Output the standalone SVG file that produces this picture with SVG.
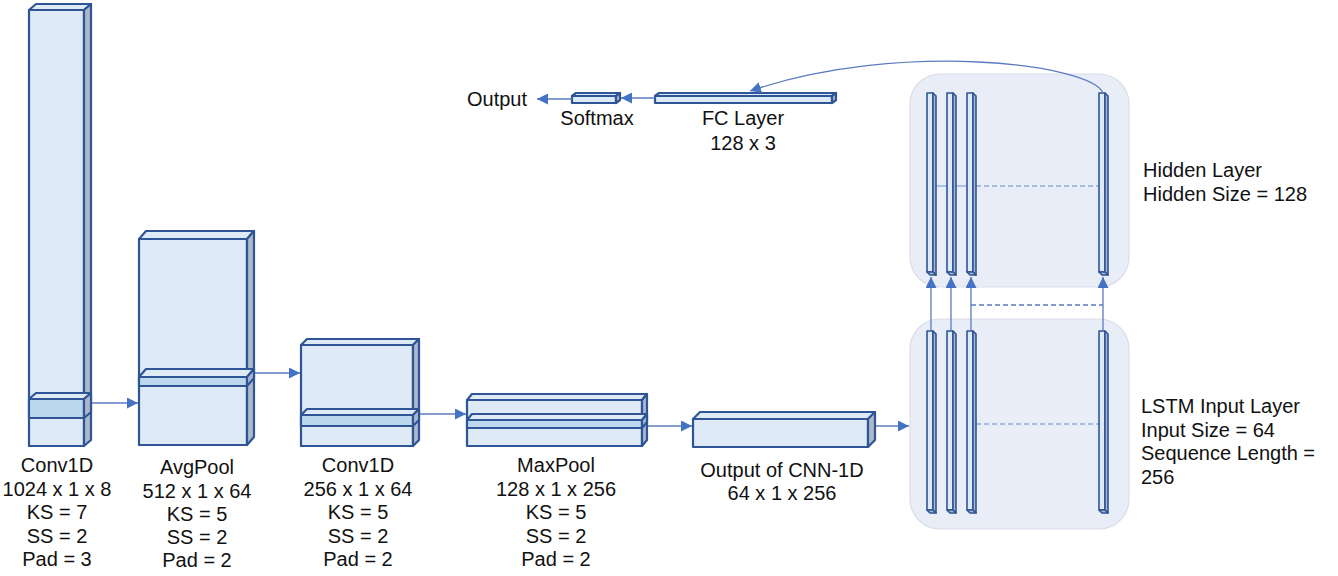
<svg xmlns="http://www.w3.org/2000/svg" width="1338" height="576" viewBox="0 0 1338 576">
<style>
.fr{fill:#DEEAF6;stroke:#2F5597;stroke-width:2.2;stroke-linejoin:round}
.tp{fill:#DEEAF6;stroke:#2F5597;stroke-width:2.2;stroke-linejoin:round}
.sd{fill:#ADB9CA;stroke:#2F5597;stroke-width:2.2;stroke-linejoin:round}
.sl{fill:#BDD7EE;stroke:#2F5597;stroke-width:2.2;stroke-linejoin:round}
.cf{fill:#DEEAF6;stroke:#2F5597;stroke-width:1.6;stroke-linejoin:round}
.cs{fill:#ADB9CA;stroke:#2F5597;stroke-width:1.6;stroke-linejoin:round}
.panel{fill:#E8EDF7;stroke:#D9DEE8;stroke-width:1.2}
.con{fill:none;stroke:#5B7BC0;stroke-width:1.3}
.arr{marker-end:url(#ah)}
.hl{fill:none;stroke:#8FAADC;stroke-width:1.3}
.dash{stroke-dasharray:5 3}
text{font-family:"Liberation Sans",Arial,sans-serif;font-size:20px;fill:#111}
.c{text-anchor:middle}
</style>
<defs>
<marker id="ah" viewBox="0 0 10 10" refX="10" refY="5" markerWidth="11" markerHeight="11" markerUnits="userSpaceOnUse" orient="auto">
<path d="M0,0 L10,5 L0,10 z" fill="#4472C4"/>
</marker>
</defs>
<rect width="1338" height="576" fill="#fff"/>

<g id="panels">
<rect class="panel" x="910" y="74" width="219" height="213" rx="30"/>
<rect class="panel" x="910" y="319" width="219" height="210" rx="30"/>
</g>

<g id="conv1">
<rect class="fr" x="29" y="10" width="55" height="436"/>
<polygon class="tp" points="29,10 36,4 91,4 84,10"/>
<polygon class="sd" points="84,10 91,4 91,440 84,446"/>
<rect class="sl" x="29" y="399" width="55" height="19"/>
<polygon class="tp" points="29,399 36,393 91,393 84,399"/>
<polygon class="sd" points="84,399 91,393 91,412 84,418"/>
<text class="c" x="57" y="472">Conv1D</text>
<text class="c" x="57" y="496">1024 x 1 x 8</text>
<text class="c" x="57" y="519">KS = 7</text>
<text class="c" x="57" y="543">SS = 2</text>
<text class="c" x="57" y="566">Pad = 3</text>
</g>

<g id="avgpool">
<rect class="fr" x="139" y="239" width="108" height="206"/>
<polygon class="tp" points="139,239 146,231 254,231 247,239"/>
<polygon class="sd" points="247,239 254,231 254,437 247,445"/>
<rect class="sl" x="139" y="377" width="108" height="9"/>
<polygon class="tp" points="139,377 146,369 254,369 247,377"/>
<polygon class="sd" points="247,377 254,369 254,378 247,386"/>
<text class="c" x="197" y="474">AvgPool</text>
<text class="c" x="197" y="498">512 x 1 x 64</text>
<text class="c" x="197" y="521">KS = 5</text>
<text class="c" x="197" y="544">SS = 2</text>
<text class="c" x="197" y="567">Pad = 2</text>
</g>

<g id="conv2">
<rect class="fr" x="301" y="345" width="112" height="101"/>
<polygon class="tp" points="301,345 307,339 419,339 413,345"/>
<polygon class="sd" points="413,345 419,339 419,440 413,446"/>
<rect class="sl" x="301" y="415" width="112" height="11"/>
<polygon class="tp" points="301,415 307,409 419,409 413,415"/>
<polygon class="sd" points="413,415 419,409 419,420 413,426"/>
<text class="c" x="358" y="472">Conv1D</text>
<text class="c" x="358" y="496">256 x 1 x 64</text>
<text class="c" x="358" y="519">KS = 5</text>
<text class="c" x="358" y="543">SS = 2</text>
<text class="c" x="358" y="566">Pad = 2</text>
</g>

<g id="maxpool">
<rect class="fr" x="467" y="400" width="175" height="46"/>
<polygon class="tp" points="467,400 472,394 647,394 642,400"/>
<polygon class="sd" points="642,400 647,394 647,440 642,446"/>
<rect class="sl" x="467" y="420" width="175" height="8"/>
<polygon class="tp" points="467,420 472,414 647,414 642,420"/>
<polygon class="sd" points="642,420 647,414 647,422 642,428"/>
<text class="c" x="556" y="472">MaxPool</text>
<text class="c" x="556" y="496">128 x 1 x 256</text>
<text class="c" x="556" y="519">KS = 5</text>
<text class="c" x="556" y="543">SS = 2</text>
<text class="c" x="556" y="566">Pad = 2</text>
</g>

<g id="cnnout">
<rect class="fr" x="693" y="419" width="175" height="28"/>
<polygon class="tp" points="693,419 700,412 875,412 868,419"/>
<polygon class="sd" points="868,419 875,412 875,440 868,447"/>
<text class="c" x="782" y="477">Output of CNN-1D</text>
<text class="c" x="782" y="500">64 x 1 x 256</text>
</g>

<g id="fc">
<rect class="fr" x="655" y="96" width="177" height="7"/>
<polygon class="tp" points="655,96 659,93 836,93 832,96"/>
<polygon class="sd" points="832,96 836,93 836,100 832,103"/>
<text class="c" x="743" y="125">FC Layer</text>
<text class="c" x="743" y="150">128 x 3</text>
</g>

<g id="softmax">
<rect class="fr" x="572" y="96" width="44" height="7"/>
<polygon class="tp" points="572,96 576,93 620,93 616,96"/>
<polygon class="sd" points="616,96 620,93 620,100 616,103"/>
<text class="c" x="597" y="125">Softmax</text>
</g>

<g id="output">
<text x="467" y="106">Output</text>
</g>

<g id="hidden">
<path class="hl" d="M936,186 H967"/>
<path class="hl dash" d="M976,186 H1102"/>
<g>
<rect class="cf" x="927" y="93" width="6" height="179"/>
<polygon class="cs" points="933,93 936,96 936,275 933,272"/>
<polygon class="cs" points="927,272 933,272 936,275 930,275"/>
</g>
<g>
<rect class="cf" x="947" y="93" width="6" height="179"/>
<polygon class="cs" points="953,93 956,96 956,275 953,272"/>
<polygon class="cs" points="947,272 953,272 956,275 950,275"/>
</g>
<g>
<rect class="cf" x="967" y="93" width="6" height="179"/>
<polygon class="cs" points="973,93 976,96 976,275 973,272"/>
<polygon class="cs" points="967,272 973,272 976,275 970,275"/>
</g>
<g>
<rect class="cf" x="1099" y="93" width="6" height="179"/>
<polygon class="cs" points="1105,93 1108,96 1108,275 1105,272"/>
<polygon class="cs" points="1099,272 1105,272 1108,275 1102,275"/>
</g>
<text x="1143" y="177">Hidden Layer</text>
<text x="1143" y="201">Hidden Size = 128</text>
</g>

<g id="lstm">
<path class="hl dash" d="M976,424 H1102"/>
<g>
<rect class="cf" x="927" y="331" width="6" height="179"/>
<polygon class="cs" points="933,331 936,334 936,513 933,510"/>
<polygon class="cs" points="927,510 933,510 936,513 930,513"/>
</g>
<g>
<rect class="cf" x="947" y="331" width="6" height="179"/>
<polygon class="cs" points="953,331 956,334 956,513 953,510"/>
<polygon class="cs" points="947,510 953,510 956,513 950,513"/>
</g>
<g>
<rect class="cf" x="967" y="331" width="6" height="179"/>
<polygon class="cs" points="973,331 976,334 976,513 973,510"/>
<polygon class="cs" points="967,510 973,510 976,513 970,513"/>
</g>
<g>
<rect class="cf" x="1099" y="331" width="6" height="179"/>
<polygon class="cs" points="1105,331 1108,334 1108,513 1105,510"/>
<polygon class="cs" points="1099,510 1105,510 1108,513 1102,513"/>
</g>
<text x="1141" y="413">LSTM Input Layer</text>
<text x="1141" y="437">Input Size = 64</text>
<text x="1141" y="460">Sequence Length =</text>
<text x="1141" y="484">256</text>
</g>

<g id="connectors">
<path class="con arr" d="M92,403 H138"/>
<path class="con arr" d="M255,373 H300"/>
<path class="con arr" d="M420,414 H466"/>
<path class="con arr" d="M648,426 H692"/>
<path class="con arr" d="M876,426 H909"/>
<path class="con arr" d="M655,98 H621"/>
<path class="con arr" d="M572,99 H537"/>
<path class="con arr" d="M931,331 V277"/>
<path class="con arr" d="M951,331 V277"/>
<path class="con arr" d="M971,331 V277"/>
<path class="con arr" d="M1103,331 V277"/>
<path class="con dash" d="M971,305 H1103"/>
<path class="con arr" d="M1103,93 C1092,64 900,40 750,91"/>
</g>
</svg>
